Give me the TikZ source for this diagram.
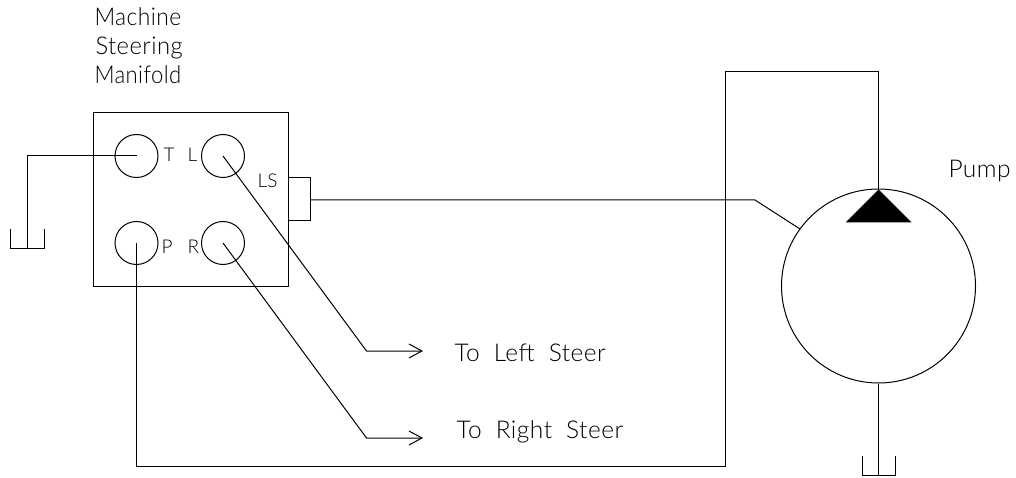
\documentclass[tikz,border=0pt]{standalone}
\usepackage{graphicx}
\usepackage{fontspec}
\usetikzlibrary{arrows.meta}
\setmainfont[LetterSpace=2]{Lato Light}
\newcommand{\wgap}{\hspace{14pt}}
\tikzset{
  every picture/.style={x=1pt,y=-1pt,line width=1pt,line join=miter},
  port/.style={draw,circle,inner sep=0pt,minimum size=43pt},
  block/.style={draw,rectangle,inner sep=0pt,minimum width=195.5pt,minimum height=173.5pt},
  pumpbody/.style={draw,circle,inner sep=0pt,minimum size=194pt},
  big/.style={anchor=base west,inner sep=0pt,font=\fontsize{24.5}{24.5}\selectfont,text=black},
  small/.style={anchor=base west,inner sep=0pt,font=\fontsize{19}{19}\selectfont,text=black},
  flowtip/.style={-{Straight Barb[length=13pt,width=14pt,line width=1pt]}},
}
\begin{document}
\begin{tikzpicture}
\useasboundingbox (0,0) rectangle (1016,478);
\node[block] (man) at (190.75,199.25) {};
\node[port] (T) at (136.5,156) {};
\node[port] (L) at (223,156) {};
\node[port] (P) at (136.5,243) {};
\node[port] (R) at (223,243) {};
\node[pumpbody] (pump) at (878.5,286) {};
% text
\node[big] (t1) at (94,26) {\scalebox{0.93}[1]{Machine}};
\node[big] (t2) at (95,55) {\scalebox{0.97}[1]{Steering}};
\node[big] (t3) at (94,84) {\scalebox{0.9}[1]{Manifold}};
\node[small] (lT) at (163,162) {T};
\node[small] (lL) at (187,162) {L};
\node[small] (lLS) at (257,188) {LS};
\node[small] (lP) at (161,253) {P};
\node[small] (lR) at (187,253) {R};
\node[big] (tp) at (948,178) {Pump};
\node[big] (tl) at (454,361) {To\wgap Left\wgap Steer};
\node[big] (tr) at (456,438) {To\wgap Right\wgap Steer};
% coordinates
\coordinate (tka) at (27,248);
\coordinate (tkb) at (27,156);
\coordinate (lsa) at (288.5,178);
\coordinate (lsb) at (310,178);
\coordinate (lsc) at (310,221);
\coordinate (lsd) at (288.5,221);
\coordinate (lse) at (310,200);
\coordinate (lsf) at (755,200);
\coordinate (lsg) at (800,229);
\coordinate (la) at (366.5,351);
\coordinate (lb) at (423,351);
\coordinate (ra) at (366.5,438);
\coordinate (rb) at (423,438);
\coordinate (ap) at (878.5,189.5);
\coordinate (up) at (878.5,72);
\coordinate (upl) at (725,72);
\coordinate (lowr) at (725,466);
\coordinate (lowl) at (136.5,466);
\coordinate (pt) at (878.5,475);
% tanks
\draw (10,229) -- (10,248) -- (44,248) -- (44,229);
\draw (862,456) -- (862,475) -- (895,475) -- (895,456);
% lines
\draw (T.center) -- (tkb) -- (tka);
\draw (lsa) -- (lsb) -- (lsc) -- (lsd);
\draw (lse) -- (lsf) -- (lsg);
\draw[flowtip] (L.center) -- (la) -- (lb);
\draw[flowtip] (R.center) -- (ra) -- (rb);
\draw (P.center) -- (lowl) -- (lowr) -- (upl) -- (up) -- (ap);
\draw (pump.south) -- (pt);
\fill (ap) -- (845.5,222.5) -- (911.5,222.5) -- cycle;
\end{tikzpicture}
\end{document}
